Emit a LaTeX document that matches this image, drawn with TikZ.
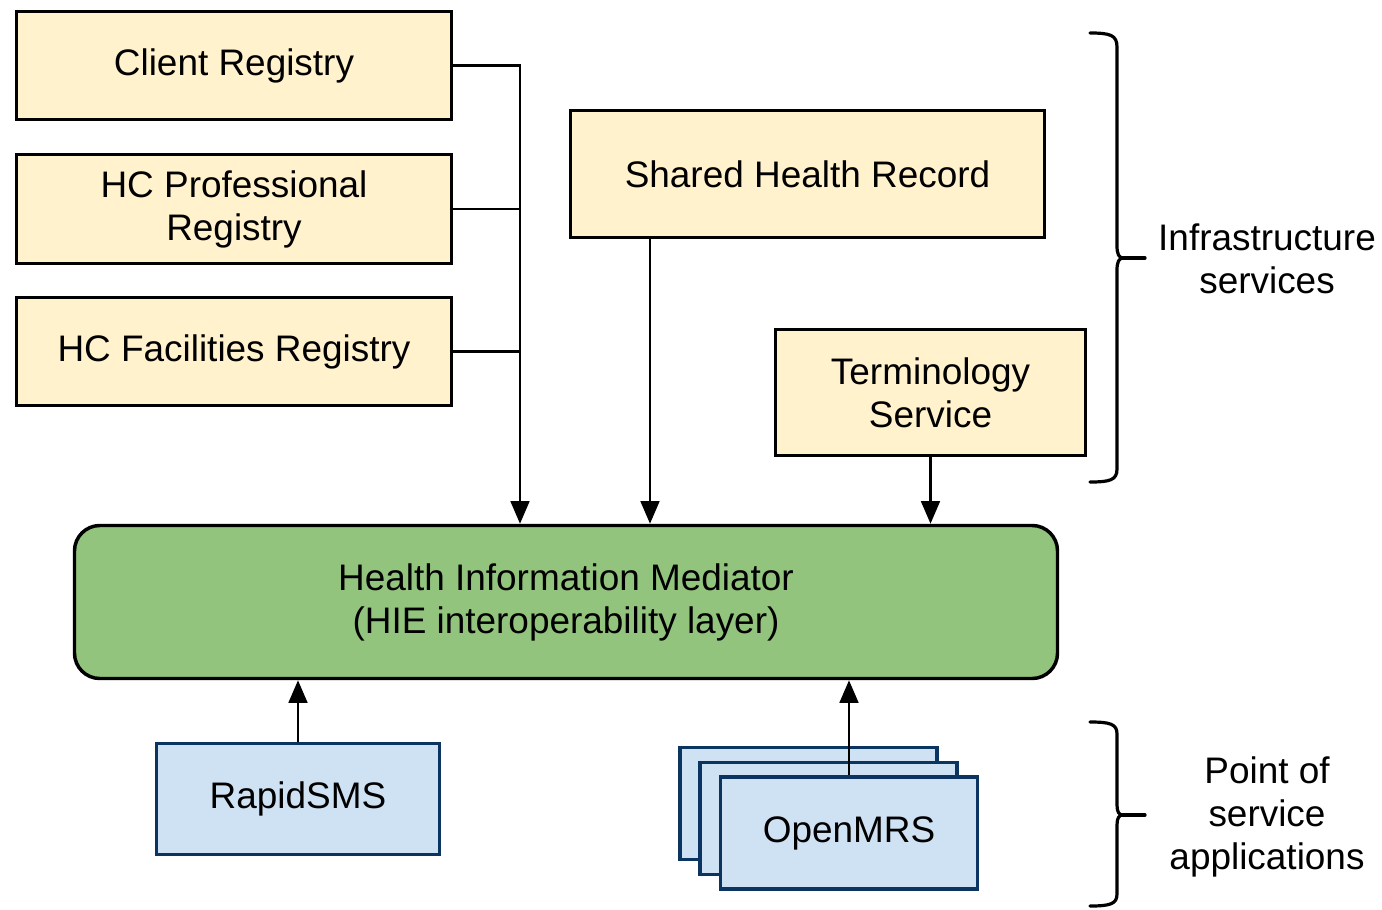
\documentclass[tikz,border=0pt]{standalone}
\usepackage{fontspec}
\setmainfont{Liberation Sans}
\usetikzlibrary{arrows.meta}

\tikzset{every picture/.style={line width=0.75pt}}
\tikzset{
  boxtext/.style={inner sep=0pt, align=center, font=\fontsize{27.7}{32.25}\selectfont},
  infra/.style={boxtext, draw, line width=2.4pt, fill={rgb, 255:red, 255; green, 242; blue, 204}},
  posapp/.style={boxtext, draw={rgb, 255:red, 12; green, 52; blue, 97}, line width=2.4pt, fill={rgb, 255:red, 207; green, 226; blue, 243}},
  mediator/.style={boxtext, draw, line width=2.6pt, rounded corners=19pt, fill={rgb, 255:red, 147; green, 196; blue, 125}},
  feed/.style={line width=2.1pt, -{Triangle[width=14pt,length=17pt]}},
  tap/.style={line width=2.1pt},
  curly/.style={line width=2.4pt, line cap=round}
}

\begin{document}
\begin{tikzpicture}[x=0.75pt,y=0.75pt,yscale=-1,xscale=1]
\useasboundingbox (0,0) rectangle (1382,910);

%Shape: Rectangle (registries)
\node [infra, minimum width=326.25pt, minimum height=81pt] (cr) at (234,65.5) {Client Registry};
\node [infra, minimum width=326.25pt, minimum height=81.75pt] (hp) at (234,209) {HC Professional\\Registry};
\node [infra, minimum width=326.25pt, minimum height=81pt] (hf) at (234,351.5) {HC Facilities Registry};
%Shape: Rectangle (services)
\node [infra, minimum width=355.5pt, minimum height=95.25pt] (shr) at (807.5,174) {Shared Health Record};
\node [infra, minimum width=232.5pt, minimum height=94.5pt] (ts) at (930.5,392.5) {Terminology\\Service};

%Rounded Rect
\node [mediator, minimum width=737.25pt, minimum height=114.75pt] (med) at (566,602) {Health Information Mediator\\(HIE interoperability layer)};

%Shape: Rectangle (applications)
\node [posapp, minimum width=212.25pt, minimum height=83.25pt] (rs) at (298,799) {RapidSMS};
\node [posapp, minimum width=192.75pt, minimum height=84pt] (om3) at (808.5,803.5) {};
\node [posapp, minimum width=192.75pt, minimum height=84pt] (om2) at (828.5,818.5) {};
\node [posapp, minimum width=192.75pt, minimum height=84pt] (om) at (849,833) {OpenMRS};

\coordinate (bus) at (520,0);
\coordinate (shrx) at (650,0);

%Straight Lines
\draw [feed] (cr.east) -| (bus |- med.north);
\draw [tap] (hp.east) -- (hp.east -| bus);
\draw [tap] (hf.east) -- (hf.east -| bus);
\draw [feed] (shr.south -| shrx) -- (med.north -| shrx);
\draw [feed] (ts.south) -- (ts.south |- med.north);
\draw [feed] (rs.north) -- (rs.north |- med.south);
\draw [feed] (om.north) -- (om.north |- med.south);

%Right Curly Brace
\draw [curly] (1090,33) .. controls (1110,33) and (1117,35) .. (1117,47) -- (1117,246) .. controls (1117,254) and (1119,258) .. (1123,258) .. controls (1119,258) and (1117,262) .. (1117,270) -- (1117,469) .. controls (1117,480) and (1110,482) .. (1090,482) ;
\draw [curly] (1123,258) -- (1145,258) ;
%Right Curly Brace
\draw [curly] (1090,722) .. controls (1110,722) and (1117,724) .. (1117,734) -- (1117,805) .. controls (1117,812) and (1119,815) .. (1123,815) .. controls (1119,815) and (1117,818) .. (1117,825) -- (1117,894) .. controls (1117,904) and (1110,906) .. (1090,906) ;
\draw [curly] (1123,815) -- (1145,815) ;

% Text Node
\node [boxtext] (infralabel) at (1267,259) {Infrastructure\\services};
% Text Node
\node [boxtext] (poslabel) at (1267,817) {Point of\\service\\applications};

\end{tikzpicture}
\end{document}
